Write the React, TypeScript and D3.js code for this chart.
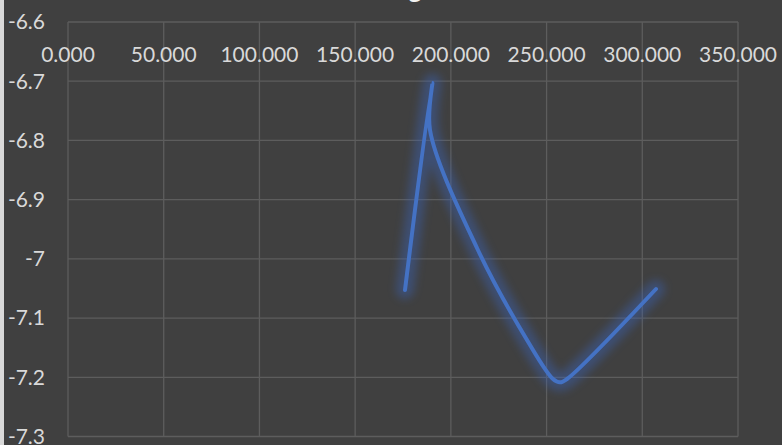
import React, { useRef, useEffect } from 'react'
import * as d3 from 'd3'

// x ticks (top labels) and y ticks
const xTicks = [0, 50, 100, 150, 200, 250, 300, 350]
const yTicks = [-6.6, -6.7, -6.8, -6.9, -7, -7.1, -7.2, -7.3]

// series
const xValues = [176.05, 190.31, 189.1, 213.66, 239.78, 253.36, 257.02, 260.67, 307.16]
const yValues = [-7.0526, -6.7025, -6.7824, -6.9817, -7.137, -7.2029, -7.2085, -7.2029, -7.0509]

const W = 782
const H = 445

const App: React.FC = () => {
  const svgRef = useRef<SVGSVGElement>(null)

  useEffect(() => {
    if (!svgRef.current) return
    const svg = d3.select(svgRef.current)
    svg.selectAll('*').remove()

    const font = 'Lato, Calibri, "Open Sans", sans-serif'
    const left = 68
    const right = 738
    const top = 22
    const bottom = 436.5

    const x = d3.scaleLinear().domain([0, 350]).range([left, right])
    const y = d3.scaleLinear().domain([-6.6, -7.3]).range([top, bottom])

    // background
    svg.append('rect').attr('width', W).attr('height', H).attr('fill', '#404040')
    svg.append('rect').attr('width', 4).attr('height', H).attr('fill', '#d9d9d9')

    // glow filter
    const defs = svg.append('defs')
    const f = defs.append('filter').attr('id', 'glow')
      .attr('x', '-20%').attr('y', '-20%').attr('width', '140%').attr('height', '140%')
    f.append('feGaussianBlur').attr('stdDeviation', 4.5)

    // title (cut off at the top)
    svg.append('text')
      .attr('x', 415)
      .attr('y', -2)
      .attr('text-anchor', 'middle')
      .attr('font-family', font)
      .attr('font-weight', 'bold')
      .attr('font-size', 26)
      .attr('fill', '#f2f2f2')
      .text('g')

    // grid
    const grid = svg.append('g').attr('stroke', '#5d5d5d').attr('stroke-width', 1.3)
    xTicks.forEach(t => {
      grid.append('line')
        .attr('x1', x(t)).attr('x2', x(t))
        .attr('y1', top).attr('y2', bottom)
    })
    yTicks.forEach(t => {
      grid.append('line')
        .attr('x1', left).attr('x2', right)
        .attr('y1', y(t)).attr('y2', y(t))
    })

    // x labels
    svg.append('g').selectAll('text').data(xTicks).join('text')
      .attr('x', d => x(d))
      .attr('y', 55)
      .attr('dy', '0.35em')
      .attr('text-anchor', 'middle')
      .attr('font-family', font)
      .attr('font-size', 21)
      .attr('fill', '#d9d9d9')
      .text(d => d3.format('.3f')(d))

    // y labels
    svg.append('g').selectAll('text').data(yTicks).join('text')
      .attr('x', 45)
      .attr('y', d => y(d))
      .attr('dy', '0.35em')
      .attr('text-anchor', 'end')
      .attr('font-family', font)
      .attr('font-size', 21)
      .attr('fill', '#d9d9d9')
      .text(d => String(d))

    // line
    const pts: [number, number][] = xValues.map((v, i) => [v, yValues[i]])
    const line = d3.line<[number, number]>()
      .x(d => x(d[0]))
      .y(d => y(d[1]))
      .curve(d3.curveCatmullRom.alpha(0.5))

    svg.append('path')
      .attr('d', line(pts))
      .attr('fill', 'none')
      .attr('stroke', '#3a64b8')
      .attr('stroke-width', 18)
      .attr('stroke-linecap', 'round')
      .attr('stroke-linejoin', 'round')
      .attr('opacity', 0.42)
      .attr('filter', 'url(#glow)')

    svg.append('path')
      .attr('d', line(pts))
      .attr('fill', 'none')
      .attr('stroke', '#4472c4')
      .attr('stroke-width', 4)
      .attr('stroke-linecap', 'round')
      .attr('stroke-linejoin', 'round')
  }, [])

  return (
    <svg
      ref={svgRef}
      width={W}
      height={H}
      style={{ position: 'absolute', left: 0, top: 0, display: 'block' }}
    />
  )
}

export default App
